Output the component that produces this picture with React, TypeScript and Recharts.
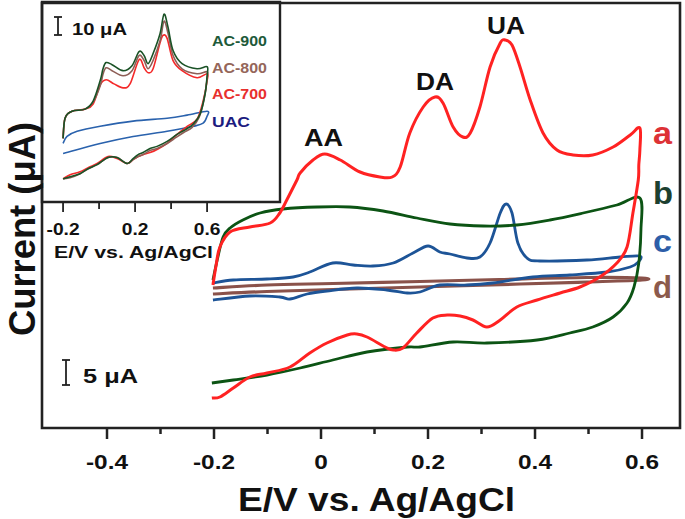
import React from "react";
import { ComposedChart, Line, XAxis, YAxis, ReferenceArea } from "recharts";

// main panel: potential (V) and current (uA)
const redV = [-0.202, -0.196, -0.189, -0.17, -0.133, -0.095, -0.077, -0.064, -0.045, -0.039, -0.015, 0.007, 0.036, 0.073, 0.11, 0.133, 0.148, 0.166, 0.191, 0.213, 0.228, 0.247, 0.265, 0.279, 0.297, 0.316, 0.335, 0.344, 0.357, 0.372, 0.391, 0.415, 0.441, 0.471, 0.508, 0.546, 0.578, 0.596,
  0.596, 0.594, 0.593, 0.583, 0.572, 0.553, 0.521, 0.484, 0.447, 0.404, 0.366, 0.335, 0.31, 0.284, 0.26, 0.236, 0.209, 0.179, 0.153, 0.135, 0.12, 0.086, 0.067, 0.049, 0.011, -0.021, -0.058, -0.101, -0.133, -0.164, -0.189, -0.204];
const redI = [28.6, 32.6, 36.2, 39.2, 40.2, 41, 43, 45.6, 49.6, 51, 53.6, 54.8, 53.6, 51.2, 50.2, 50.2, 52.2, 59, 64.2, 66.2, 65, 60.2, 58.2, 59, 64.2, 72.2, 77, 77.6, 76.6, 72.2, 65.6, 59, 55.6, 54.6, 54.6, 56.2, 58.6, 60,
  55.6, 52.6, 49.6, 43, 36.2, 33, 30.2, 28.2, 27, 25.6, 24.2, 21.6, 20.2, 21.6, 22.4, 22.6, 22, 19, 16, 15.6, 16.2, 18.2, 18.8, 18.6, 17, 15, 12.2, 11, 10.2, 8, 6.2, 6];

const greenV = [-0.202, -0.194, -0.183, -0.17, -0.146, -0.114, -0.071, -0.007, 0.054, 0.116, 0.179, 0.241, 0.303, 0.366, 0.428, 0.49, 0.553, 0.596,
  0.598, 0.594, 0.585, 0.572, 0.546, 0.508, 0.465, 0.404, 0.31, 0.247, 0.185, 0.161, 0.086, 0.022, -0.039, -0.101, -0.164, -0.204];
const greenI = [29.6, 33.6, 38.2, 40, 41.6, 43, 43.8, 44.2, 44.2, 43.4, 42, 40.8, 40.4, 40.6, 41.6, 43, 44.6, 46,
  39.6, 33, 28.2, 25, 22.2, 20.2, 19, 17.6, 17, 17.2, 16.2, 16.2, 15.2, 13.6, 12, 10.6, 9.6, 9];

const blueV = [-0.202, -0.164, -0.101, -0.052, -0.021, 0.022, 0.06, 0.097, 0.135, 0.172, 0.2, 0.222, 0.241, 0.273, 0.297, 0.316, 0.335, 0.346, 0.357, 0.368, 0.385, 0.409, 0.497, 0.559, 0.596,
  0.593, 0.578, 0.535, 0.465, 0.396, 0.321, 0.273, 0.222, 0.185, 0.161, 0.123, 0.067, 0.011, -0.026, -0.058, -0.077, -0.133, -0.202];
const blueI = [29, 29.6, 29.8, 30.2, 31.2, 33, 32.6, 32.4, 33, 35, 36.4, 35.2, 34.8, 34, 34.2, 37, 43, 44.8, 43, 37, 34, 33.4, 33.6, 34.2, 34.4,
  33.2, 32.2, 31.2, 30.6, 30.2, 29, 28.6, 28.6, 27.2, 27, 27.6, 28, 27.4, 26.8, 25.8, 26.2, 26.4, 25.6];

const brownV = [-0.202, -0.101, 0.022, 0.185, 0.333, 0.497, 0.6, 0.6, 0.497, 0.372, 0.185, 0.022, -0.101, -0.202];
const brownI = [28, 28.6, 28.9, 29.3, 29.7, 30.1, 30, 29.6, 29.2, 28.8, 28.2, 27.7, 27.3, 26.8];

// inset panel
const ac900V = [-0.2, -0.189, -0.15, -0.078, -0.033, 0.006, 0.022, 0.039, 0.072, 0.133, 0.183, 0.222, 0.25, 0.272, 0.3, 0.339, 0.361, 0.383, 0.411, 0.461, 0.544, 0.6,
  0.6, 0.589, 0.561, 0.522, 0.483, 0.433, 0.378, 0.322, 0.283, 0.244, 0.217, 0.189, 0.156, 0.1, 0.05, -0.011, -0.061, -0.106, -0.161, -0.2];
const ac900I = [37.1, 48.8, 52.9, 54.1, 58.8, 70.6, 77.6, 81.2, 80, 76.5, 79.4, 87.6, 85.3, 80.6, 86.5, 98.2, 109.4, 101.8, 88.2, 80.6, 77.6, 78.8,
  73.5, 62.9, 51.2, 45.3, 42.4, 39.4, 35.3, 32.4, 31.2, 28.8, 27.6, 25.3, 22.4, 25.9, 25.9, 21.8, 19.4, 16.5, 14.7, 13.5];

const ac800V = [-0.2, -0.189, -0.15, -0.078, -0.033, 0.006, 0.022, 0.039, 0.072, 0.133, 0.183, 0.222, 0.25, 0.272, 0.3, 0.339, 0.361, 0.383, 0.411, 0.461, 0.544, 0.6,
  0.6, 0.583, 0.556, 0.517, 0.472, 0.428, 0.378, 0.322, 0.283, 0.244, 0.217, 0.189, 0.156, 0.1, 0.05, -0.011, -0.061, -0.106, -0.161, -0.2];
const ac800I = [37.1, 48.8, 52.9, 54.1, 58.2, 67.6, 74.5, 78.2, 76.5, 73.5, 76.5, 85.3, 82.4, 77.6, 82.4, 94.1, 105.3, 98.2, 85.3, 77.6, 74.7, 75.9,
  71.8, 60, 49.4, 43.5, 40.6, 37.6, 34.1, 31.2, 30, 27.6, 26.5, 24.7, 22.4, 25.9, 25.9, 21.8, 19.4, 16.5, 14.1, 13.5];

const ac700V = [-0.2, -0.189, -0.15, -0.078, -0.033, 0.006, 0.039, 0.083, 0.133, 0.172, 0.222, 0.25, 0.272, 0.3, 0.339, 0.356, 0.378, 0.411, 0.461, 0.544, 0.6,
  0.6, 0.578, 0.544, 0.489, 0.433, 0.378, 0.322, 0.283, 0.244, 0.217, 0.189, 0.156, 0.1, 0.05, -0.011, -0.061, -0.106, -0.161, -0.2];
const ac700I = [37.1, 48.8, 52.9, 54.1, 57.1, 68.2, 71.2, 68.8, 66.5, 68.8, 82.9, 78.2, 75.3, 77.6, 92.9, 97.1, 95.3, 82.4, 76.5, 72.4, 74.7,
  70.6, 58.8, 48.2, 44.1, 39.4, 34.1, 30.6, 28.8, 27.6, 26.5, 24.7, 22.4, 25.3, 26.5, 22.4, 20, 17.6, 15.9, 13.5];

const uacV = [-0.2, -0.178, -0.122, 0.006, 0.189, 0.378, 0.489, 0.6, 0.6, 0.578, 0.522, 0.378, 0.189, 0.006, -0.2];
const uacI = [34.1, 38.2, 41.2, 44.1, 47.1, 48.8, 50.6, 52.9, 50, 45.9, 44.1, 41.2, 38.2, 34.1, 28.2];

const mainTicks = [-0.4, -0.3, -0.2, -0.1, 0, 0.1, 0.2, 0.3, 0.4, 0.5, 0.6];
const insetTicks = [-0.2, 0, 0.2, 0.4, 0.6];

const MAIN_X: [number, number] = [-0.5215, 0.671];
const MAIN_Y: [number, number] = [0, 85];
const INSET_X: [number, number] = [-0.317, 1.005];
const INSET_Y: [number, number] = [0, 116.5];

const FONT = "Liberation Sans, Arial, sans-serif";

const zip = (vs: number[], is: number[]) => vs.map((v, k) => ({ v, i: is[k] }));

// local cubic (catmull-rom) so the loops stay smooth without overshoot
function smooth(context: any) {
  let pts: number[][] = [];
  return {
    areaStart() {},
    areaEnd() {},
    lineStart() { pts = []; },
    lineEnd() {
      if (!pts.length) return;
      context.moveTo(pts[0][0], pts[0][1]);
      for (let k = 0; k < pts.length - 1; k++) {
        const p0 = pts[k - 1] || pts[k];
        const p1 = pts[k];
        const p2 = pts[k + 1];
        const p3 = pts[k + 2] || p2;
        context.bezierCurveTo(
          p1[0] + (p2[0] - p0[0]) / 6, p1[1] + (p2[1] - p0[1]) / 6,
          p2[0] - (p3[0] - p1[0]) / 6, p2[1] - (p3[1] - p1[1]) / 6,
          p2[0], p2[1]
        );
      }
    },
    point(x: number, y: number) { pts.push([x, y]); },
  };
}

const fmt = (v: number) => String(Number(v.toFixed(1)));

const MainTick = (props: any) => {
  const { x, y, payload } = props;
  const v = payload.value;
  const major = Math.round(v * 10) % 2 === 0;
  return (
    <g>
      <line x1={x} x2={x} y1={y} y2={y + (major ? 11 : 6)} stroke="#222" strokeWidth={2.5} />
      {major && (
        <text x={x} y={y + 41} textAnchor="middle" fontFamily={FONT} fontWeight="bold" fontSize={20} fill="#111"
          transform={`translate(${x} 0) scale(1.22 1) translate(${-x} 0)`}>
          {fmt(v)}
        </text>
      )}
    </g>
  );
};

const InsetTick = (props: any) => {
  const { x, y, payload } = props;
  const v = payload.value;
  const major = Math.abs(Math.round(v * 10)) % 4 === 2;
  return (
    <g>
      <line x1={x} x2={x} y1={y} y2={y + (major ? 10 : 7)} stroke="#222" strokeWidth={1.8} />
      {major && (
        <text x={x} y={y + 33} textAnchor="middle" fontFamily={FONT} fontWeight="bold" fontSize={16} fill="#111"
          transform={`translate(${x} 0) scale(1.2 1) translate(${-x} 0)`}>
          {fmt(v)}
        </text>
      )}
    </g>
  );
};

const mainSeries = [
  { name: "d", v: brownV, i: brownI, color: "#8a524a", w: 3.2 },
  { name: "c", v: blueV, i: blueI, color: "#1d5497", w: 2.8 },
  { name: "b", v: greenV, i: greenI, color: "#0c5414", w: 2.8 },
  { name: "a", v: redV, i: redI, color: "#ff2222", w: 3 },
];

const insetSeries = [
  { name: "UAC", v: uacV, i: uacI, color: "#2a62ad" },
  { name: "AC-700", v: ac700V, i: ac700I, color: "#f42a2a" },
  { name: "AC-800", v: ac800V, i: ac800I, color: "#8e5e56" },
  { name: "AC-900", v: ac900V, i: ac900I, color: "#1a5226" },
];

const T = (p: any) => (
  <text fontFamily={FONT} fontWeight="bold" lengthAdjust="spacingAndGlyphs" {...p} />
);

export default function App() {
  return (
    <div style={{ position: "absolute", left: 0, top: 0, width: 685, height: 519, background: "#fff" }}>
      <ComposedChart width={685} height={519} margin={{ top: 3, right: 5, bottom: 31, left: 42 }}>
        <XAxis dataKey="v" type="number" domain={MAIN_X} ticks={mainTicks} interval={0} tick={<MainTick />}
          tickLine={false} axisLine={false} tickSize={0} tickMargin={0} height={60} allowDataOverflow />
        <YAxis type="number" domain={MAIN_Y} hide width={0} allowDataOverflow />
        <ReferenceArea x1={MAIN_X[0]} x2={MAIN_X[1]} y1={MAIN_Y[0]} y2={MAIN_Y[1]} fill="none" stroke="#222" strokeWidth={2.6} />
        {mainSeries.map((s) => (
          <Line key={s.name} data={zip(s.v, s.i)} dataKey="i" type={smooth as any} stroke={s.color} strokeWidth={s.w}
            dot={false} activeDot={false} isAnimationActive={false} />
        ))}
      </ComposedChart>

      <div style={{ position: "absolute", left: 0, top: 0 }}>
        <ComposedChart width={290} height={270} margin={{ top: 2, right: 10, bottom: 10, left: 42 }}>
          <XAxis dataKey="v" type="number" domain={INSET_X} ticks={insetTicks} interval={0} tick={<InsetTick />}
            tickLine={false} axisLine={false} tickSize={0} tickMargin={0} height={58} allowDataOverflow />
          <YAxis type="number" domain={INSET_Y} hide width={0} allowDataOverflow />
          <ReferenceArea x1={INSET_X[0]} x2={INSET_X[1]} y1={INSET_Y[0]} y2={INSET_Y[1]} fill="none" stroke="#222" strokeWidth={2.4} />
          {insetSeries.map((s) => (
            <Line key={s.name} data={zip(s.v, s.i)} dataKey="i" type={smooth as any} stroke={s.color} strokeWidth={1.6}
              dot={false} activeDot={false} isAnimationActive={false} />
          ))}
        </ComposedChart>
      </div>

      <svg width={685} height={519} style={{ position: "absolute", left: 0, top: 0, pointerEvents: "none" }}>
        {/* axis titles */}
        <T x={238} y={511} fontSize={33} textLength={277} fill="#111">E/V vs. Ag/AgCl</T>
        <T transform="translate(35 336) rotate(-90)" x={0} y={0} fontSize={37} textLength={214} fill="#111">Current (μA)</T>

        {/* peak names */}
        <T x={304} y={146} fontSize={23} textLength={39} fill="#111">AA</T>
        <T x={416} y={90} fontSize={23} textLength={38} fill="#111">DA</T>
        <T x={487} y={34} fontSize={23} textLength={38} fill="#111">UA</T>

        {/* curve letters */}
        <T x={653} y={144} fontSize={31} textLength={19} fill="#dd3236">a</T>
        <T x={653} y={204} fontSize={32} textLength={20} fill="#1c4030">b</T>
        <T x={653} y={252} fontSize={31} textLength={19} fill="#2d5ea8">c</T>
        <T x={653} y={298} fontSize={32} textLength={19} fill="#8c5a4c">d</T>

        {/* scale bars */}
        <g stroke="#222" strokeWidth={1.8}>
          <line x1={66} x2={66} y1={360} y2={385} />
          <line x1={62} x2={70} y1={360} y2={360} />
          <line x1={62} x2={70} y1={385} y2={385} />
          <line x1={58} x2={58} y1={17} y2={35} />
          <line x1={54} x2={62} y1={17} y2={17} />
          <line x1={54} x2={62} y1={35} y2={35} />
        </g>
        <T x={83} y={383} fontSize={21} textLength={55} fill="#111">5 μA</T>
        <T x={72} y={35} fontSize={16} textLength={55} fill="#111">10 μA</T>

        {/* inset legend */}
        <T x={212} y={46} fontSize={14} textLength={55} fill="#1d5a3a">AC-900</T>
        <T x={212} y={73} fontSize={14} textLength={55} fill="#95665a">AC-800</T>
        <T x={212} y={99} fontSize={14} textLength={55} fill="#e8302e">AC-700</T>
        <T x={212} y={127} fontSize={14} textLength={38} fill="#1c1c80">UAC</T>

        <T x={54} y={258} fontSize={17} textLength={159} fill="#111">E/V vs. Ag/AgCl</T>
      </svg>
    </div>
  );
}
